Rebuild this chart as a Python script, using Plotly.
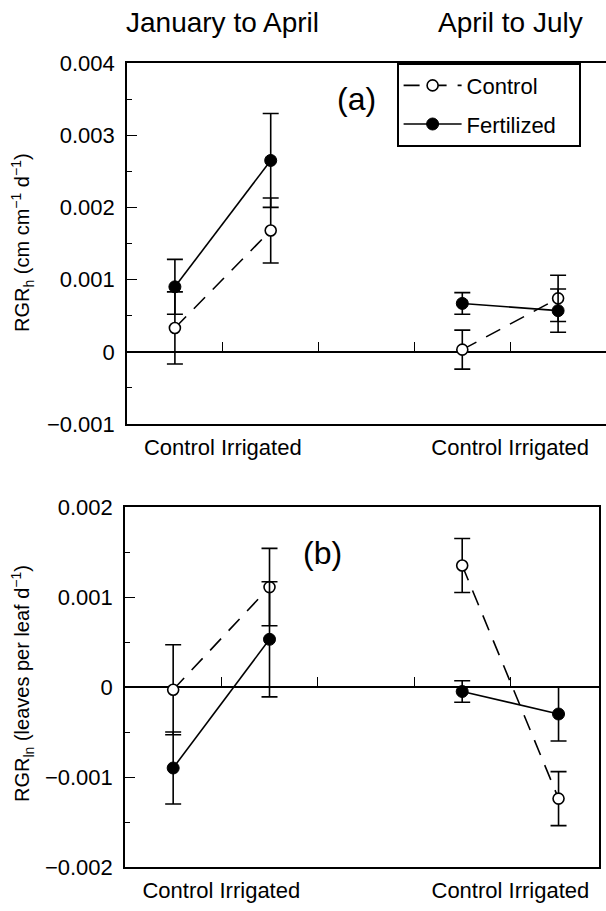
import plotly.graph_objects as go

# ---------------- data ----------------
periods = ["January to April", "April to July"]
treatments = ["Control", "Irrigated"]
category_label = "Control Irrigated"

# panel (a): RGR_h
a_control = [0.00033, 0.00168, 0.00003, 0.00074]
a_control_err = [0.00050, 0.00045, 0.00027, 0.00032]
a_fert = [0.00090, 0.00265, 0.00067, 0.00057]
a_fert_err = [0.00038, 0.00065, 0.00015, 0.00030]

# panel (b): RGR_ln
b_control = [-0.00003, 0.00111, 0.00135, -0.00124]
b_control_err = [0.00050, 0.00043, 0.00030, 0.00030]
b_fert = [-0.00090, 0.00053, -0.00005, -0.00030]
b_fert_err = [0.00040, 0.00064, 0.00012, 0.00030]

# ---------------- layout helpers ----------------
W, H = 606, 911
FONT = "Liberation Sans, Arial, Helvetica, sans-serif"

def pos(g, t):
    return g * 3 + t + 0.5

xs_all = [pos(g, t) for g in range(len(periods)) for t in range(len(treatments))]
center_ticks = [pos(g, 0) + 0.5 for g in range(len(periods))]
zero_ticks = [1, 2, 3, 4]

top_dom = [1 - 424 / H, 1 - 63 / H]
bot_dom = [1 - 867 / H, 1 - 507 / H]
top_rng = [-0.001, 0.004]
bot_rng = [-0.002, 0.002]
top_xr = [0, 5]
bot_xr = [0, 4.92]

def zero_pos(dom, rng):
    return dom[0] + (0 - rng[0]) / (rng[1] - rng[0]) * (dom[1] - dom[0])

fig = go.Figure()

series = [
    ("Control", dict(symbol="circle", color="white", size=11,
                     line=dict(color="black", width=1.6)), "16px,11px"),
    ("Fertilized", dict(symbol="circle", color="black", size=12,
                        line=dict(color="black", width=1)), "solid"),
]
legend_pad = "\u00a0\u00a0\u00a0"

panels = [
    ("x", "y", [a_control, a_fert], [a_control_err, a_fert_err]),
    ("x2", "y2", [b_control, b_fert], [b_control_err, b_fert_err]),
]

for pi, (xa, ya, vals, errs) in enumerate(panels):
    for si, (name, marker, dash) in enumerate(series):
        for g in range(len(periods)):
            idx = [g * len(treatments) + t for t in range(len(treatments))]
            fig.add_trace(go.Scatter(
                x=[xs_all[i] for i in idx],
                y=[vals[si][i] for i in idx],
                error_y=dict(type="data", array=[errs[si][i] for i in idx],
                             visible=True, color="black", thickness=1.6, width=8),
                mode="lines+markers",
                line=dict(color="black", width=1.6, dash=dash),
                marker=marker,
                name=name + legend_pad,
                legendgroup=name,
                showlegend=(pi == 0 and g == 0),
                xaxis=xa, yaxis=ya,
            ))

# empty traces so the zero-line tick axes get drawn
for xa, ya in (("x3", "y"), ("x4", "y2")):
    fig.add_trace(go.Scatter(x=[], y=[], xaxis=xa, yaxis=ya, showlegend=False,
                             hoverinfo="skip", mode="markers"))

axis_common = dict(showline=True, linecolor="black", linewidth=1.6, mirror=True,
                   showgrid=False, automargin=False)

yaxis_common = dict(
    **axis_common,
    zeroline=True, zerolinecolor="black", zerolinewidth=1.6,
    ticks="inside", ticklen=10, tickcolor="black", tickwidth=1.4,
    dtick=0.001, tickfont=dict(size=22, color="black"),
    minor=dict(dtick=0.0005, ticks="inside", ticklen=5, tickcolor="black", tickwidth=1.2),
    ticklabelstandoff=6,
)

xaxis_common = dict(
    **axis_common, zeroline=False,
    tickvals=center_ticks, ticktext=[category_label] * len(periods),
    ticks="", tickfont=dict(size=22, color="black"), ticklabelstandoff=3,
)

zero_axis_common = dict(anchor="free", tickvals=zero_ticks, ticks="inside", ticklen=10,
                        tickcolor="black", tickwidth=1.4, showticklabels=False,
                        showline=False, showgrid=False, zeroline=False, automargin=False)

fig.update_layout(
    width=W, height=H,
    margin=dict(l=0, r=0, t=0, b=0, autoexpand=False),
    plot_bgcolor="white", paper_bgcolor="white",
    font=dict(family=FONT, color="black"),
    xaxis=dict(**xaxis_common, domain=[127 / W, 1.0], range=top_xr, anchor="y"),
    yaxis=dict(**yaxis_common, domain=top_dom, range=top_rng, anchor="x"),
    xaxis2=dict(**xaxis_common, domain=[125 / W, 599 / W], range=bot_xr, anchor="y2"),
    yaxis2=dict(**yaxis_common, domain=bot_dom, range=bot_rng, anchor="x2"),
    xaxis3=dict(**zero_axis_common, overlaying="x", range=top_xr,
                position=zero_pos(top_dom, top_rng)),
    xaxis4=dict(**zero_axis_common, overlaying="x2", range=bot_xr,
                position=zero_pos(bot_dom, bot_rng)),
    legend=dict(x=397 / W, y=1 - 63 / H, xanchor="left", yanchor="top",
                bordercolor="black", borderwidth=1.6, bgcolor="white",
                font=dict(size=22, color="black"), tracegroupgap=7,
                itemwidth=58),
    showlegend=True,
)

annotations = []
for g, p in enumerate(periods):
    annotations.append(dict(text=p, x=center_ticks[g], xref="x", y=1 - 22 / H, yref="paper",
                            showarrow=False, font=dict(size=28, color="black"),
                            xanchor="center", yanchor="middle"))
annotations.append(dict(text="(a)", x=2.4, xref="x", y=0.00350, yref="y", showarrow=False,
                        font=dict(size=32, color="black"), xanchor="center", yanchor="middle"))
annotations.append(dict(text="(b)", x=2.05, xref="x2", y=0.00149, yref="y2", showarrow=False,
                        font=dict(size=32, color="black"), xanchor="center", yanchor="middle"))
annotations.append(dict(text="RGR<sub>h</sub> (cm cm<sup>−1</sup> d<sup>−1</sup>)",
                        x=22 / W, xref="paper", y=1 - 243 / H, yref="paper",
                        xanchor="center", yanchor="middle",
                        textangle=-90, showarrow=False, font=dict(size=20, color="black")))
annotations.append(dict(text="RGR<sub>ln</sub> (leaves per leaf d<sup>−1</sup>)",
                        x=22 / W, xref="paper", y=1 - 684 / H, yref="paper",
                        xanchor="center", yanchor="middle",
                        textangle=-90, showarrow=False, font=dict(size=20, color="black")))
fig.update_layout(annotations=annotations)

fig.write_html("out.html", config={"displayModeBar": False},
               post_script="document.body.style.margin='0';document.body.style.overflow='hidden';")
